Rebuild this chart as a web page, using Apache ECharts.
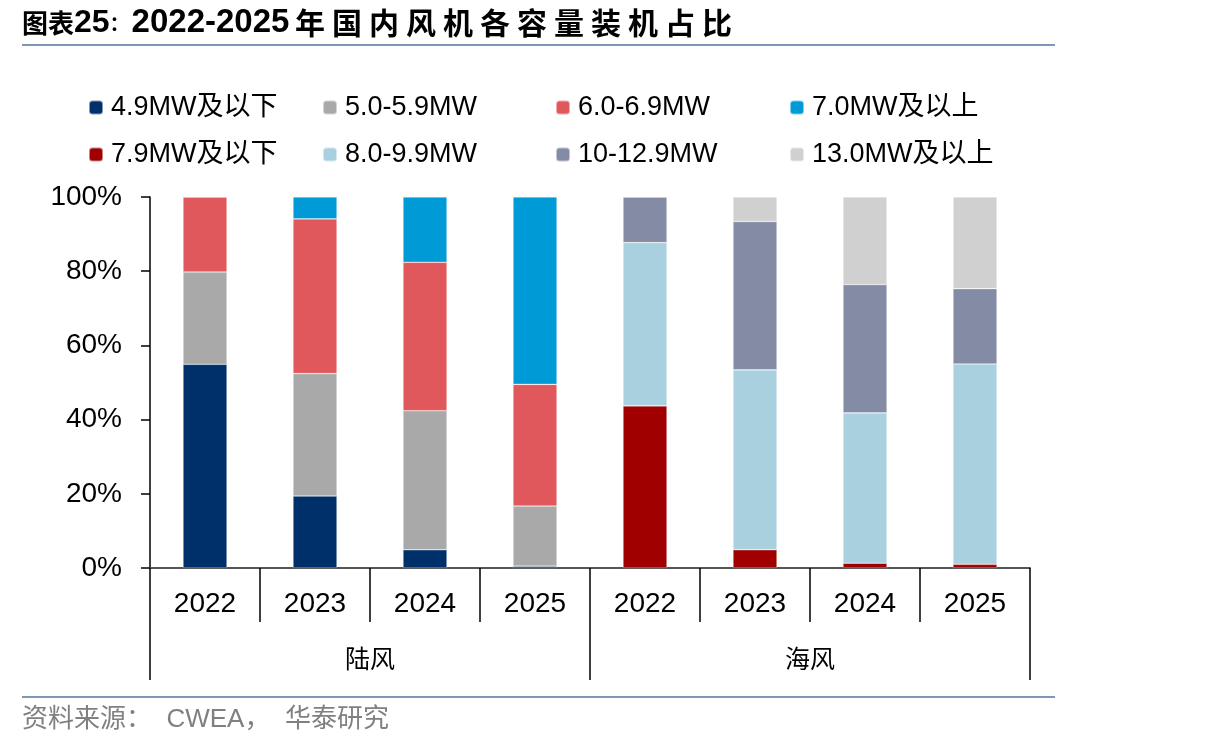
<!DOCTYPE html>
<html>
<head>
<meta charset="utf-8">
<script src="https://cdn.jsdelivr.net/npm/echarts@6/dist/echarts.min.js"></script>
<style>
  html, body { margin: 0; padding: 0; background: #fff; }
  #chart { width: 1206px; height: 751px; }
</style>
</head>
<body>
<div id="chart"></div>
<script>
// Categories
const years = ['2022', '2023', '2024', '2025', '2022', '2023', '2024', '2025'];
const groups = ['陆风', '海风'];

// Onshore shares (%), 2022-2025
const onshoreLe49 = [54.9, 19.4, 4.9, 0.5];
const onshore50to59 = [24.9, 33.0, 37.5, 16.2];
const onshore60to69 = [20.2, 41.7, 40.0, 32.8];
const onshoreGe70 = [0, 5.9, 17.6, 50.5];

// Offshore shares (%), 2022-2025
const offshoreLe79 = [43.7, 4.9, 1.3, 1.0];
const offshore80to99 = [44.0, 48.5, 40.5, 54.0];
const offshore10to129 = [12.3, 40.0, 34.6, 20.3];
const offshoreGe130 = [0, 6.6, 23.6, 24.7];

const yTicks = [0, 20, 40, 60, 80, 100];

const empty = ['-', '-', '-', '-'];
const latin = '"Liberation Sans", Arial, "Noto Sans CJK SC", sans-serif';

function makeSeries(name, data, color) {
    return {
        name: name,
        type: 'bar',
        stack: 'total',
        barWidth: 44,
        data: data,
        itemStyle: { color: color, borderColor: 'rgba(255,255,255,0.5)', borderWidth: 0.6 }
    };
}

const series = [
    makeSeries('4.9MW及以下', onshoreLe49.concat(empty), '#00306A'),
    makeSeries('5.0-5.9MW', onshore50to59.concat(empty), '#A9A9A9'),
    makeSeries('6.0-6.9MW', onshore60to69.concat(empty), '#E0585B'),
    makeSeries('7.0MW及以上', onshoreGe70.concat(empty), '#009BD6'),
    makeSeries('7.9MW及以下', empty.concat(offshoreLe79), '#A00000'),
    makeSeries('8.0-9.9MW', empty.concat(offshore80to99), '#A9D0DF'),
    makeSeries('10-12.9MW', empty.concat(offshore10to129), '#848BA5'),
    makeSeries('13.0MW及以上', empty.concat(offshoreGe130), '#D0D0D0')
];

// One vertical legend per column
const legendCols = [
    { left: 88, names: ['4.9MW及以下', '7.9MW及以下'] },
    { left: 322, names: ['5.0-5.9MW', '8.0-9.9MW'] },
    { left: 555, names: ['6.0-6.9MW', '10-12.9MW'] },
    { left: 789, names: ['7.0MW及以上', '13.0MW及以上'] }
];

const legends = legendCols.map(col => ({
    left: col.left,
    top: 93,
    orient: 'vertical',
    itemWidth: 14,
    itemHeight: 14,
    itemGap: 18,
    padding: 0,
    selectedMode: false,
    data: col.names,
    textStyle: {
        fontFamily: latin,
        fontSize: 27,
        lineHeight: 29,
        color: '#000',
        padding: [0, 0, 0, 3]
    }
}));

// Title: prefix as rich text, the Chinese tail spaced out char by char
const titleTail = '年国内风机各容量装机占比';
const titleGraphics = [{
    type: 'text',
    x: 22,
    y: 23,
    style: {
        text: '{a|图表}{d|25}{c|：}{b|2022-2025}',
        verticalAlign: 'middle',
        rich: {
            a: { fontFamily: '"Noto Sans CJK SC"', fontWeight: 'bold', fontSize: 26, fill: '#000', verticalAlign: 'middle', lineHeight: 34 },
            d: { fontFamily: '"Liberation Sans", Arial', fontWeight: 'bold', fontSize: 32, fill: '#000', verticalAlign: 'middle', lineHeight: 34 },
            c: { fontFamily: '"Noto Sans CJK SC"', fontWeight: 'bold', fontSize: 20, fill: '#000', verticalAlign: 'middle', lineHeight: 34, padding: [0, 2, 0, 0] },
            b: { fontFamily: '"Liberation Sans", Arial', fontWeight: 'bold', fontSize: 33, fill: '#000', verticalAlign: 'middle', lineHeight: 34 }
        }
    }
}];
titleTail.split('').forEach((ch, i) => {
    titleGraphics.push({
        type: 'text',
        x: 295 + i * 37.0,
        y: 23,
        style: {
            text: ch,
            verticalAlign: 'middle',
            font: 'bold 30px "Noto Sans CJK SC", sans-serif',
            fill: '#000'
        }
    });
});

const chart = echarts.init(document.getElementById('chart'));
chart.setOption({
    animation: false,
    backgroundColor: '#fff',
    legend: legends,
    grid: { left: 150, right: 176, top: 197, bottom: 183 },
    xAxis: [
        {
            type: 'category',
            data: years,
            position: 'bottom',
            axisLine: { lineStyle: { color: '#555', width: 2 } },
            axisTick: { show: true, length: 54, lineStyle: { color: '#000', width: 1.5 } },
            axisLabel: {
                margin: 22,
                fontFamily: '"Liberation Sans Narrow", "Liberation Sans", Arial, sans-serif',
                fontSize: 28,
                color: '#000'
            }
        },
        {
            type: 'category',
            data: groups,
            position: 'bottom',
            axisLine: { show: false },
            axisTick: { show: true, length: 112, lineStyle: { color: '#000', width: 1.5 } },
            axisLabel: {
                margin: 78,
                fontFamily: '"Noto Sans CJK SC", sans-serif',
                fontSize: 25,
                color: '#000'
            }
        }
    ],
    yAxis: {
        type: 'value',
        min: yTicks[0],
        max: yTicks[yTicks.length - 1],
        interval: 20,
        axisLine: { show: true, lineStyle: { color: '#000', width: 1.5 } },
        axisTick: { show: true, length: 9, lineStyle: { color: '#000', width: 1.5 } },
        splitLine: { show: false },
        axisLabel: {
            margin: 28,
            fontFamily: latin,
            fontSize: 28,
            color: '#000',
            formatter: '{value}%'
        }
    },
    series: series,
    graphic: titleGraphics.concat([
        {
            type: 'line',
            shape: { x1: 22, y1: 45, x2: 1055, y2: 45 },
            style: { stroke: '#7F96B8', lineWidth: 2 }
        },
        {
            type: 'line',
            shape: { x1: 22, y1: 697, x2: 1055, y2: 697 },
            style: { stroke: '#7F96B8', lineWidth: 2 }
        },
        {
            type: 'text',
            left: 22,
            top: 707,
            style: {
                text: '资料来源：  CWEA，  华泰研究',
                font: '26px "Liberation Sans", Arial, "Noto Sans CJK SC", sans-serif',
                fill: '#808080'
            }
        }
    ])
});
</script>
</body>
</html>
